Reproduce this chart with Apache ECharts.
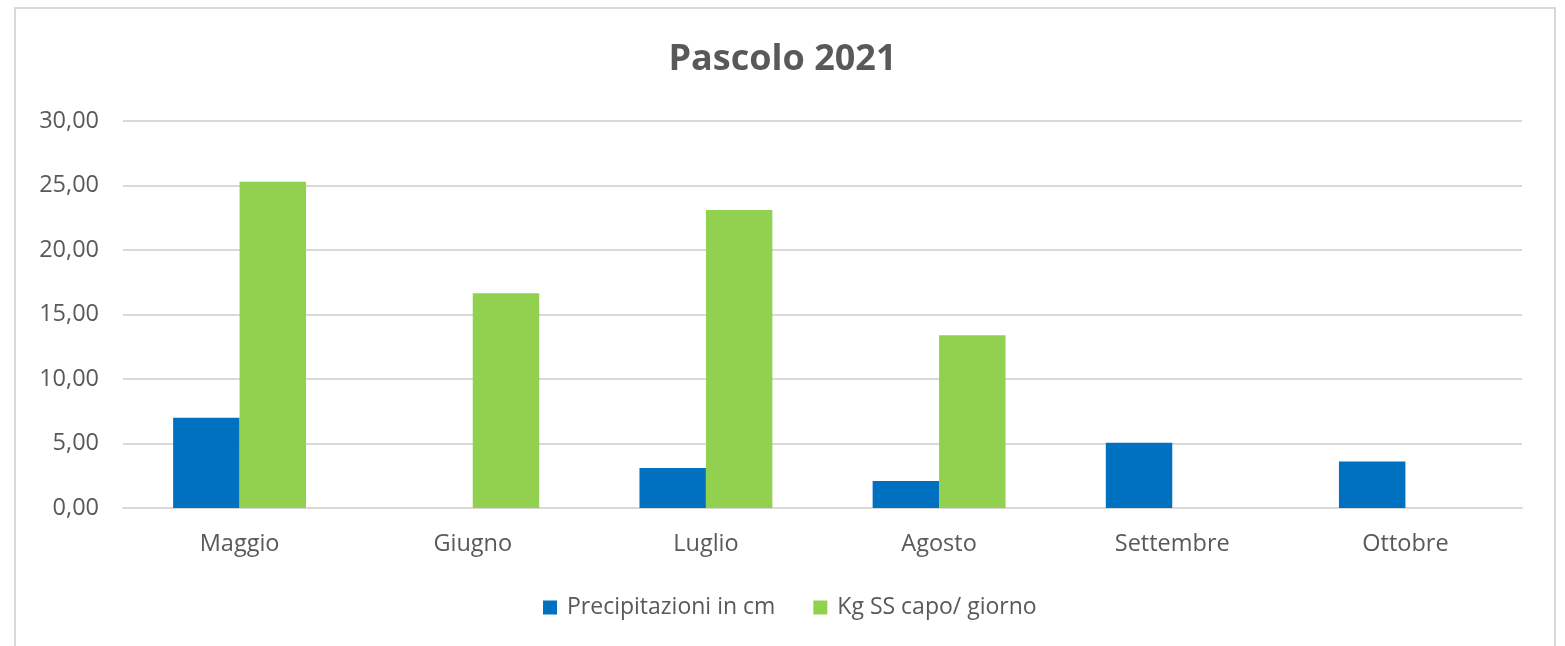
<!DOCTYPE html>
<html>
<head>
<meta charset="utf-8">
<script src="https://cdn.jsdelivr.net/npm/echarts@6/dist/echarts.min.js"></script>
<style>
  html, body { margin: 0; padding: 0; background: #fff; }
  #chart { position: absolute; left: 0; top: 0; width: 1565px; height: 646px; }
  .frame { position: absolute; left: 14px; top: 7px; width: 1538px; height: 650px;
           border: 2px solid #d9d9d9; border-bottom: none; pointer-events: none; }
</style>
</head>
<body>
<div id="chart"></div>
<div class="frame"></div>
<script>
const mesi = ['Maggio', 'Giugno', 'Luglio', 'Agosto', 'Settembre', 'Ottobre'];
const precipitazioni = [7.0, 0, 3.1, 2.1, 5.05, 3.6];
const kgSS = [25.3, 16.65, 23.1, 13.4, 0, 0];
const nomi = ['Precipitazioni in cm', 'Kg SS capo/ giorno'];

const font = 'Open Sans';
const grigio = '#595959';

const myChart = echarts.init(document.getElementById('chart'));
myChart.setOption({
  animation: false,
  title: {
    text: 'Pascolo 2021',
    left: 'center',
    top: 37,
    textStyle: { color: grigio, fontSize: 36, fontWeight: 'bold', fontFamily: font }
  },
  legend: {
    top: 591,
    left: 538,
    itemWidth: 14,
    itemHeight: 14,
    itemGap: 38,
    icon: 'rect',
    textStyle: { color: grigio, fontSize: 23, fontFamily: font, padding: [0, 0, 0, 5] }
  },
  grid: { left: 123, right: 43, top: 121, bottom: 138 },
  xAxis: {
    type: 'category',
    data: mesi,
    axisLine: { lineStyle: { color: '#d9d9d9', width: 2 } },
    axisTick: { show: false },
    axisLabel: { color: grigio, fontSize: 23.5, fontFamily: font, margin: 24 }
  },
  yAxis: {
    type: 'value',
    min: 0,
    max: 30,
    interval: 5,
    axisLabel: {
      color: grigio, fontSize: 23.5, fontFamily: font, margin: 24,
      formatter: v => v.toFixed(2).replace('.', ',')
    },
    splitLine: { lineStyle: { color: '#d9d9d9', width: 2 } }
  },
  series: [
    {
      name: nomi[0],
      type: 'bar',
      data: precipitazioni,
      itemStyle: { color: '#0070c0' },
      barGap: '0%',
      barCategoryGap: '43%'
    },
    {
      name: nomi[1],
      type: 'bar',
      data: kgSS,
      itemStyle: { color: '#92d050' }
    }
  ]
});
</script>
</body>
</html>
